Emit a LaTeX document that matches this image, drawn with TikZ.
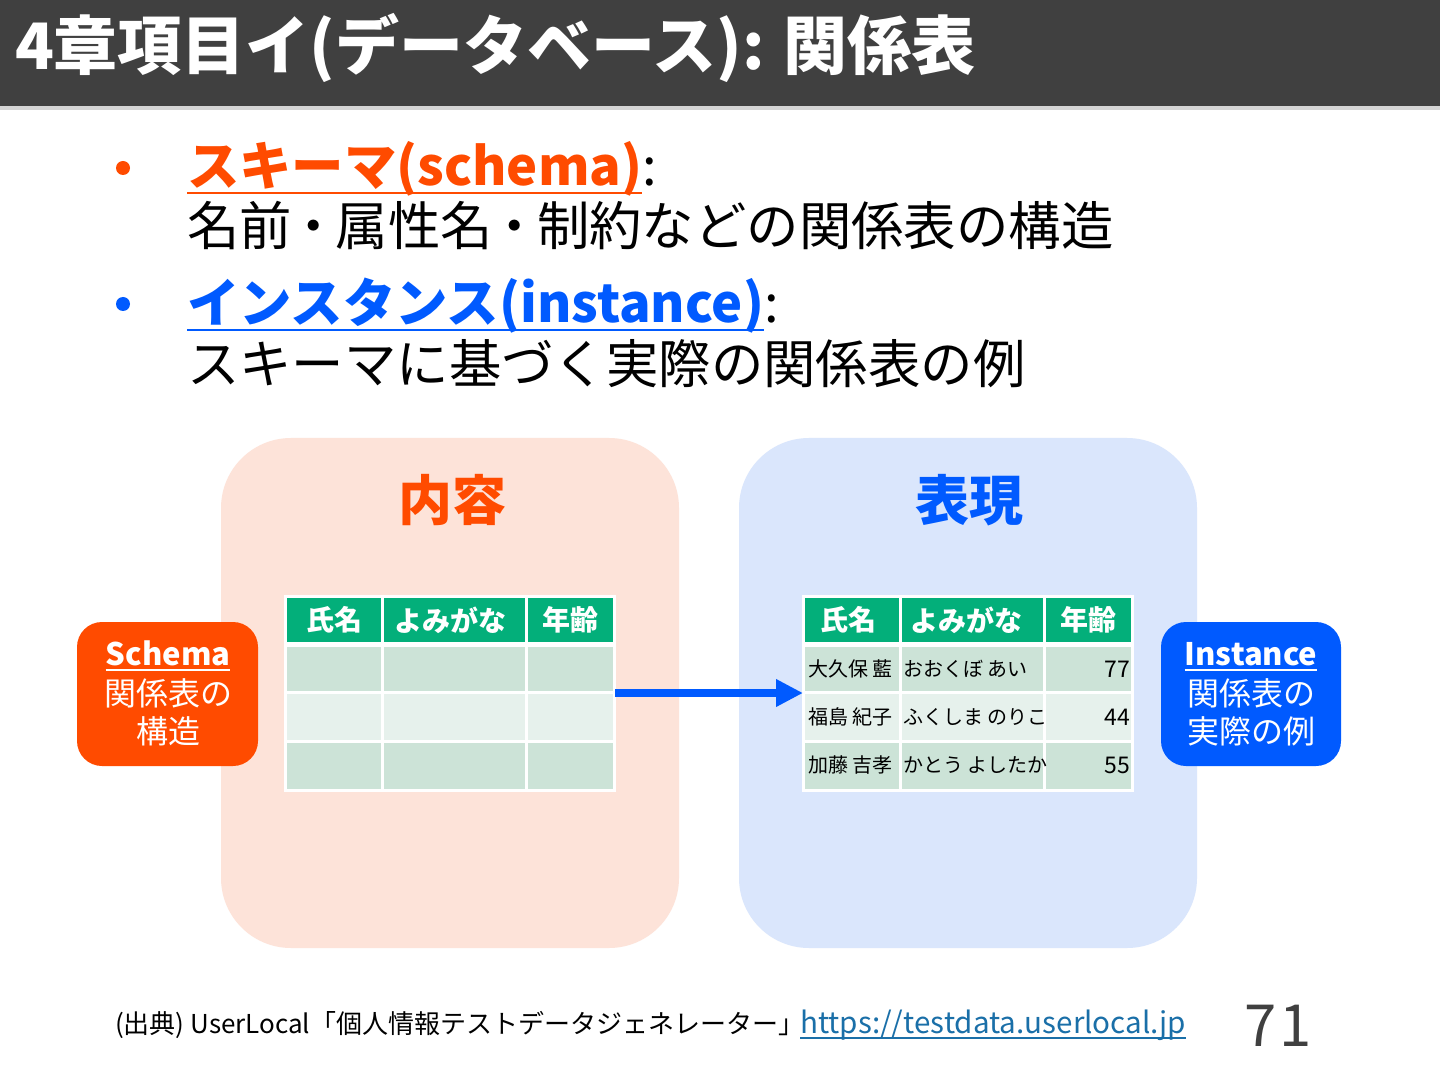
\documentclass[tikz,border=0pt]{standalone}
\usepackage{fontspec}
\setmainfont{Noto Sans CJK JP}
\usetikzlibrary{arrows.meta}
\definecolor{titlebg}{HTML}{404040}
\definecolor{linegray}{HTML}{D4D4D4}
\definecolor{orng}{HTML}{FF4B00}
\definecolor{blu}{HTML}{005AFF}
\definecolor{pinkbg}{HTML}{FDE3D9}
\definecolor{bluebg}{HTML}{DAE6FC}
\definecolor{hdrgreen}{HTML}{03AF7A}
\definecolor{rowdark}{HTML}{CCE3D7}
\definecolor{rowlight}{HTML}{E6F1EC}
\definecolor{linkc}{HTML}{1A6FA8}
\tikzset{
  txt/.style={inner sep=0pt, outer sep=0pt},
  bodytxt/.style={txt, anchor=base west, font=\fontsize{26.2}{31}\selectfont},
  hdrtxt/.style={txt, text=white, font=\fontsize{14}{17}\selectfont\bfseries},
  celltxt/.style={txt, text=black, font=\fontsize{10}{12}\selectfont},
  numtxt/.style={txt, text=black, anchor=east, font=\fontsize{11.5}{13}\selectfont},
  boxtxt/.style={txt, text=white, font=\fontsize{16}{19}\selectfont},
}
\begin{document}
\begin{tikzpicture}[x=0.5pt,y=-0.5pt]
\useasboundingbox (0,0) rectangle (1440,1080);
\fill[white] (0,0) rectangle (1440,1080);
% title bar
\fill[titlebg] (0,0) rectangle (1440,106);
\fill[linegray] (0,106) rectangle (1440,110);
\node[txt, anchor=base west, text=white, font=\fontsize{32}{38}\selectfont\bfseries] (title) at (15,70) {4章項目イ(データベース): 関係表};
% bullets
\fill[orng] (123,168) circle[radius=3.5pt];
\fill[blu] (123,304) circle[radius=3.5pt];
\node[bodytxt, text=orng, font=\fontsize{26.2}{31}\selectfont\bfseries] (l1a) at (187,186) {スキーマ(schema)};
\node[bodytxt] (l1b) at (l1a.base east) {:};
\draw[orng, line width=1.4pt] ([yshift=-3.5pt]l1a.base west) -- ([yshift=-3.5pt]l1a.base east);
\node[bodytxt] (l2) at (187,246) {名前\kern-0.08em・\kern-0.08em属性名\kern-0.08em・\kern-0.08em制約などの関係表の構造};
\node[bodytxt, text=blu, font=\fontsize{26.2}{31}\selectfont\bfseries] (l3a) at (187,323) {インスタンス(instance)};
\node[bodytxt] (l3b) at (l3a.base east) {:};
\draw[blu, line width=1.4pt] ([yshift=-3.5pt]l3a.base west) -- ([yshift=-3.5pt]l3a.base east);
\node[bodytxt] (l4) at (187,384) {スキーマに基づく実際の関係表の例};
% big rounded areas
\fill[pinkbg, rounded corners=35pt] (221,438) rectangle (679,948);
\fill[bluebg, rounded corners=35pt] (739,438) rectangle (1197,948);
\node[txt, text=orng, font=\fontsize{27}{32}\selectfont\bfseries] (naiyo) at (452,500) {内容};
\node[txt, text=blu, font=\fontsize{27}{32}\selectfont\bfseries] (hyogen) at (969,500) {表現};
% left table
\fill[white] (284,595) rectangle (616,792);
\foreach \xa/\xb in {287/381,384/525,528/613}{
  \fill[hdrgreen] (\xa,598) rectangle (\xb,642);
  \fill[rowdark] (\xa,647) rectangle (\xb,691);
  \fill[rowlight] (\xa,694) rectangle (\xb,740);
  \fill[rowdark] (\xa,743) rectangle (\xb,789);
}
\node[hdrtxt] (lh1) at (334,620) {氏名};
\node[hdrtxt] (lh2) at (450,620) {よみがな};
\node[hdrtxt] (lh3) at (570,620) {年齢};
% right table
\fill[white] (802,595) rectangle (1134,792);
\foreach \xa/\xb in {805/899,902/1043,1046/1131}{
  \fill[hdrgreen] (\xa,598) rectangle (\xb,642);
  \fill[rowdark] (\xa,647) rectangle (\xb,691);
  \fill[rowlight] (\xa,694) rectangle (\xb,740);
  \fill[rowdark] (\xa,743) rectangle (\xb,789);
}
\node[hdrtxt] (rh1) at (848,620) {氏名};
\node[hdrtxt] (rh2) at (966,620) {よみがな};
\node[hdrtxt] (rh3) at (1088,620) {年齢};
\node[celltxt, anchor=west] (r1a) at (808,669) {大久保 藍};
\node[celltxt, anchor=west] (r1b) at (903,669) {おおくぼ あい};
\node[numtxt] (r1c) at (1130,669) {77};
\node[celltxt, anchor=west] (r2a) at (808,717) {福島 紀子};
\node[celltxt, anchor=west] (r2b) at (903,717) {ふくしま のりこ};
\node[numtxt] (r2c) at (1130,717) {44};
\node[celltxt, anchor=west] (r3a) at (808,765) {加藤 吉孝};
\node[celltxt, anchor=west] (r3b) at (903,765) {かとう よしたか};
\node[numtxt] (r3c) at (1130,765) {55};
% arrow
\coordinate (arrS) at (615,693);
\coordinate (arrE) at (803,693);
\draw[blu, line width=4pt, -{Triangle[length=13.5pt,width=13pt]}] (arrS) -- (arrE);
% schema box
\fill[orng, rounded corners=12.5pt] (77,622) rectangle (258,766);
\node[boxtxt, anchor=base, font=\fontsize{15.5}{19}\selectfont\bfseries] (schT) at (168,665) {Schema};
\draw[white, line width=1pt] ([yshift=-2.5pt]schT.base west) -- ([yshift=-2.5pt]schT.base east);
\node[boxtxt] (sch1) at (168,693) {関係表の};
\node[boxtxt] (sch2) at (168,731) {構造};
% instance box
\fill[blu, rounded corners=12.5pt] (1161,622) rectangle (1341,766);
\node[boxtxt, anchor=base, font=\fontsize{15.5}{19}\selectfont\bfseries] (insT) at (1251,665) {Instance};
\draw[white, line width=1pt] ([yshift=-2.5pt]insT.base west) -- ([yshift=-2.5pt]insT.base east);
\node[boxtxt] (ins1) at (1251,693) {関係表の};
\node[boxtxt] (ins2) at (1251,731) {実際の例};
% footer
\node[txt, anchor=base west, font=\fontsize{13}{16}\selectfont] (src) at (115,1033) {(出典) UserLocal「個人情報テストデータジェネレーター」};
\node[txt, anchor=base west, text=linkc, font=\fontsize{14.8}{17}\selectfont] (url) at ([xshift=-2pt]src.base east) {https://testdata.userlocal.jp};
\draw[linkc, line width=0.6pt] ([yshift=-2.5pt]url.base west) -- ([yshift=-2.5pt]url.base east);
\node[txt, anchor=base east, text=titlebg, font=\fontsize{29}{35}\selectfont] (pg) at (1312,1046) {7\kern0.05em 1};
\end{tikzpicture}
\end{document}
